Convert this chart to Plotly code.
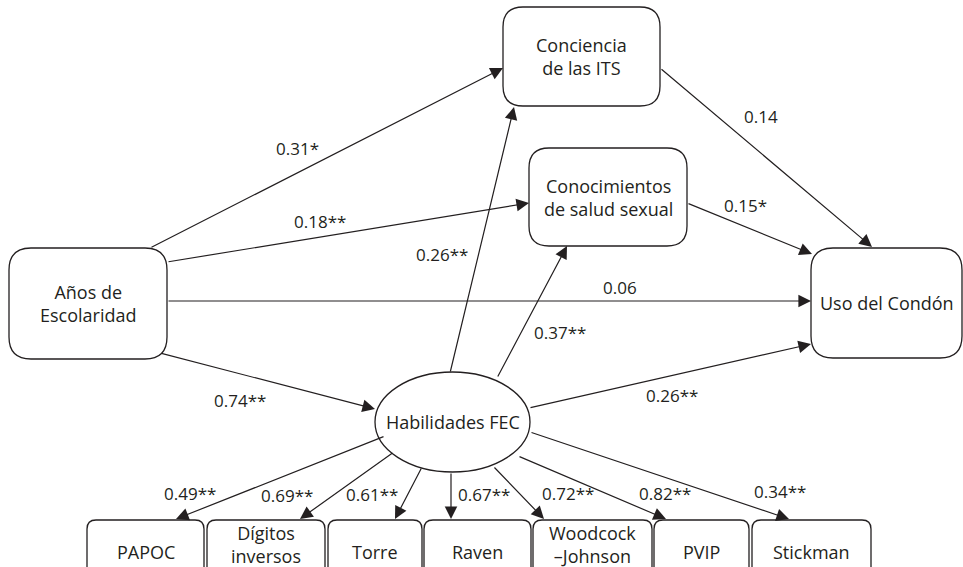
import plotly.graph_objects as go

# ---- data ----
node_names = ["Años de<br>Escolaridad", "Conciencia<br>de las ITS", "Conocimientos<br>de salud sexual",
              "Uso del Condón", "Habilidades FEC", "PAPOC", "Dígitos<br>inversos", "Torre", "Raven",
              "Woodcock<br>–Johnson", "PVIP", "Stickman"]
edge_from = ["Años", "Años", "Años", "Años", "Hab", "Hab", "Hab", "ITS", "Con",
             "Hab", "Hab", "Hab", "Hab", "Hab", "Hab", "Hab"]
edge_to = ["ITS", "Con", "Uso", "Hab", "ITS", "Con", "Uso", "Uso", "Uso",
           "PAPOC", "Dig", "Torre", "Raven", "WJ", "PVIP", "Stick"]
edge_labels = ["0.31*", "0.18**", "0.06", "0.74**", "0.26**", "0.37**", "0.26**", "0.14", "0.15*",
               "0.49**", "0.69**", "0.61**", "0.67**", "0.72**", "0.82**", "0.34**"]

# ---- layout geometry (pixels) ----
node_keys = ["Años", "ITS", "Con", "Uso", "Hab", "PAPOC", "Dig", "Torre", "Raven", "WJ", "PVIP", "Stick"]
node_boxes = {  # x0, x1, y0, y1, radius
    "Años": (9, 167, 248, 359, 22),
    "ITS": (503, 660, 7, 106, 20),
    "Con": (529, 687, 148, 246, 20),
    "Uso": (811, 962, 248, 358, 22),
    "Hab": (375, 530, 372, 472, 0),
    "PAPOC": (87, 204, 520, 586, 9),
    "Dig": (207, 325, 520, 586, 9),
    "Torre": (328, 422, 520, 586, 9),
    "Raven": (424, 531, 520, 586, 9),
    "WJ": (533, 652, 520, 586, 9),
    "PVIP": (654, 749, 520, 586, 9),
    "Stick": (752, 871, 520, 586, 9),
}
text_pos = {"PAPOC": 552, "Dig": 544, "Torre": 552, "Raven": 552, "WJ": 544, "PVIP": 552, "Stick": 552}
edge_geom = [  # start x, start y, tip x, tip y
    (150, 248, 503, 68), (167, 262, 529, 203), (167, 301, 811, 301), (160, 353, 375, 409),
    (450, 373, 514, 107), (497, 378, 567, 246), (529, 408, 811, 344), (660, 68, 872, 247),
    (687, 203, 812, 254),
    (385, 436, 176, 519), (394, 452, 300, 519), (422, 467, 395, 519), (451, 472, 451, 519),
    (493, 466, 544, 519), (518, 456, 666, 519), (530, 432, 789, 519),
]
label_pos = [
    (297, 148), (320, 221), (620, 287), (240, 400), (442, 254), (560, 332), (672, 395),
    (761, 116), (745, 205),
    (190, 493), (287, 495), (372, 494), (484, 494), (568, 493), (665, 493), (780, 491),
]

INK = "#231f20"
FONT = "Open Sans"


def rounded_rect(x0, x1, y0, y1, r):
    return (f"M {x0+r},{y0} L {x1-r},{y0} Q {x1},{y0} {x1},{y0+r} L {x1},{y1-r} "
            f"Q {x1},{y1} {x1-r},{y1} L {x0+r},{y1} Q {x0},{y1} {x0},{y1-r} "
            f"L {x0},{y0+r} Q {x0},{y0} {x0+r},{y0} Z")


fig = go.Figure()
shapes = []
annotations = []

for key, name in zip(node_keys, node_names):
    x0, x1, y0, y1, r = node_boxes[key]
    if key == "Hab":
        shapes.append(dict(type="circle", xref="x", yref="y", x0=x0, x1=x1, y0=y0, y1=y1,
                           line=dict(color=INK, width=1.3), fillcolor="white", layer="above"))
    else:
        shapes.append(dict(type="path", xref="x", yref="y", path=rounded_rect(x0, x1, y0, y1, r),
                           line=dict(color=INK, width=1.3), fillcolor="white", layer="below"))
    ty = text_pos.get(key, (y0 + y1) / 2)
    annotations.append(dict(x=(x0 + x1) / 2, y=ty, xref="x", yref="y", text=name, showarrow=False,
                            font=dict(family=FONT, size=18, color=INK), align="center"))

for (sx, sy, tx, ty), lab, (lx, ly) in zip(edge_geom, edge_labels, label_pos):
    annotations.append(dict(x=tx, y=ty, ax=sx, ay=sy, xref="x", yref="y", axref="x", ayref="y",
                            text="", showarrow=True, arrowhead=2, arrowsize=2.1, arrowwidth=1.2,
                            arrowcolor=INK, standoff=0, startstandoff=0))
    annotations.append(dict(x=lx, y=ly, xref="x", yref="y", text=lab, showarrow=False,
                            font=dict(family=FONT, size=17, color=INK)))

fig.update_layout(
    width=963, height=567, margin=dict(l=0, r=0, t=0, b=0),
    paper_bgcolor="white", plot_bgcolor="white",
    xaxis=dict(range=[0, 963], visible=False, fixedrange=True),
    yaxis=dict(range=[567, 0], visible=False, fixedrange=True),
    shapes=shapes, annotations=annotations, showlegend=False,
)
fig.write_html("out.html", config={"displayModeBar": False},
               post_script="document.body.style.margin='0px';document.body.style.overflow='hidden';")
